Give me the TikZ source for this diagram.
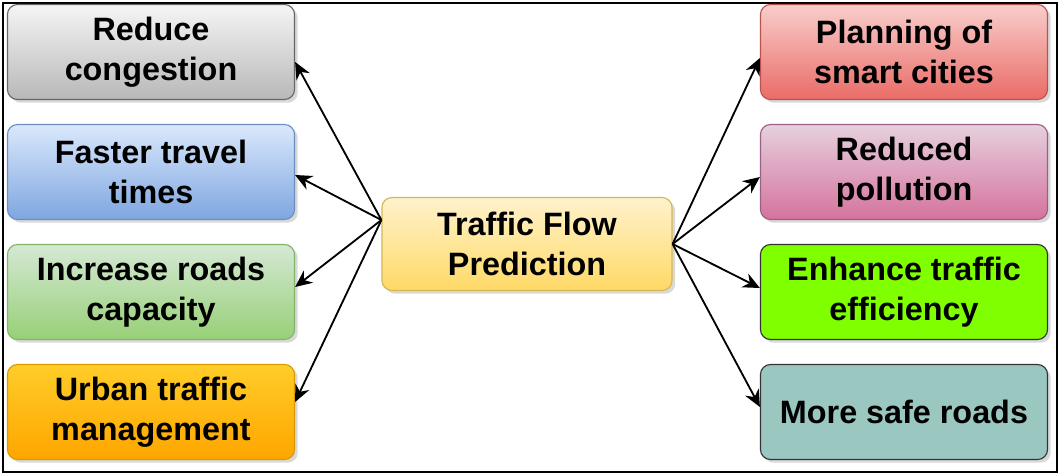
\documentclass[tikz,border=0pt]{standalone}
\usepackage{fontspec}
\setmainfont{Liberation Sans}
\usetikzlibrary{arrows.meta,shadows}

\definecolor{grayTop}{HTML}{F5F5F5}
\definecolor{grayBot}{HTML}{B8B8B8}
\definecolor{grayLine}{HTML}{666666}
\definecolor{blueTop}{HTML}{DAE8FC}
\definecolor{blueBot}{HTML}{7EA6E0}
\definecolor{blueLine}{HTML}{6C8EBF}
\definecolor{greenTop}{HTML}{D5E8D4}
\definecolor{greenBot}{HTML}{97D077}
\definecolor{greenLine}{HTML}{82B366}
\definecolor{orangeTop}{HTML}{FFCD28}
\definecolor{orangeBot}{HTML}{FFA500}
\definecolor{orangeLine}{HTML}{D79B00}
\definecolor{yellowTop}{HTML}{FFF2CC}
\definecolor{yellowBot}{HTML}{FFD966}
\definecolor{yellowLine}{HTML}{D6B656}
\definecolor{redTop}{HTML}{F8CECC}
\definecolor{redBot}{HTML}{EA6B66}
\definecolor{redLine}{HTML}{B85450}
\definecolor{pinkTop}{HTML}{E6D0DE}
\definecolor{pinkBot}{HTML}{D5739D}
\definecolor{pinkLine}{HTML}{996185}
\definecolor{limeFill}{HTML}{80FF00}
\definecolor{tealFill}{HTML}{9AC7BF}

\tikzset{
  box/.style={draw, rounded corners=0.25cm, minimum width=7.175cm,
    minimum height=2.375cm, align=center, line width=0.8pt,
    font=\fontsize{23}{28.5}\selectfont\bfseries,
    drop shadow={opacity=0.3, shadow xshift=0.08cm, shadow yshift=-0.08cm}},
  link/.style={-{Stealth[length=0.42cm, width=0.38cm]}, line width=1.3pt},
}

\begin{document}
\begin{tikzpicture}[x=0.025cm, y=-0.025cm]

        \useasboundingbox (0,0) rectangle (1060,475);

        % Frame
        \draw[line width=2pt] (3,3) rectangle (1057,472);

        % Centre box
        \node[box, top color=yellowTop, bottom color=yellowBot, draw=yellowLine,
              minimum width=7.25cm, minimum height=2.325cm] (flow) at (527,244)
              {Traffic Flow\\Prediction};

        % Left boxes
        \node[box, top color=grayTop, bottom color=grayBot, draw=grayLine] (congestion) at (151,52) {Reduce\\congestion};
        \node[box, top color=blueTop, bottom color=blueBot, draw=blueLine] (travel) at (151,172) {Faster travel\\times};
        \node[box, top color=greenTop, bottom color=greenBot, draw=greenLine] (capacity) at (151,292) {Increase roads\\capacity};
        \node[box, top color=orangeTop, bottom color=orangeBot, draw=orangeLine] (urban) at (151,412) {Urban traffic\\management};

        % Right boxes
        \node[box, top color=redTop, bottom color=redBot, draw=redLine] (smart) at (904,52) {Planning of\\smart cities};
        \node[box, top color=pinkTop, bottom color=pinkBot, draw=pinkLine] (pollution) at (904,172) {Reduced\\pollution};
        \node[box, fill=limeFill, draw=black!80] (efficiency) at (904,292) {Enhance traffic\\efficiency};
        \node[box, fill=tealFill, draw=black!80] (safe) at (904,412) {More safe roads};

        % Arrows to the left
        \coordinate (west) at ([yshift=0.6cm]flow.west);
        \draw[link] (west) -- ([yshift=-0.25cm]congestion.east);
        \draw[link] (west) -- ([yshift=-0.075cm]travel.east);
        \draw[link] (west) -- ([yshift=0.125cm]capacity.east);
        \draw[link] (west) -- ([yshift=0.25cm]urban.east);

        % Arrows to the right
        \coordinate (east) at (flow.east);
        \draw[link] (east) -- ([yshift=-0.15cm]smart.west);
        \draw[link] (east) -- ([yshift=-0.125cm]pollution.west);
        \draw[link] (east) -- ([yshift=0.1cm]efficiency.west);
        \draw[link] (east) -- ([yshift=0.125cm]safe.west);

    \end{tikzpicture}
\end{document}
